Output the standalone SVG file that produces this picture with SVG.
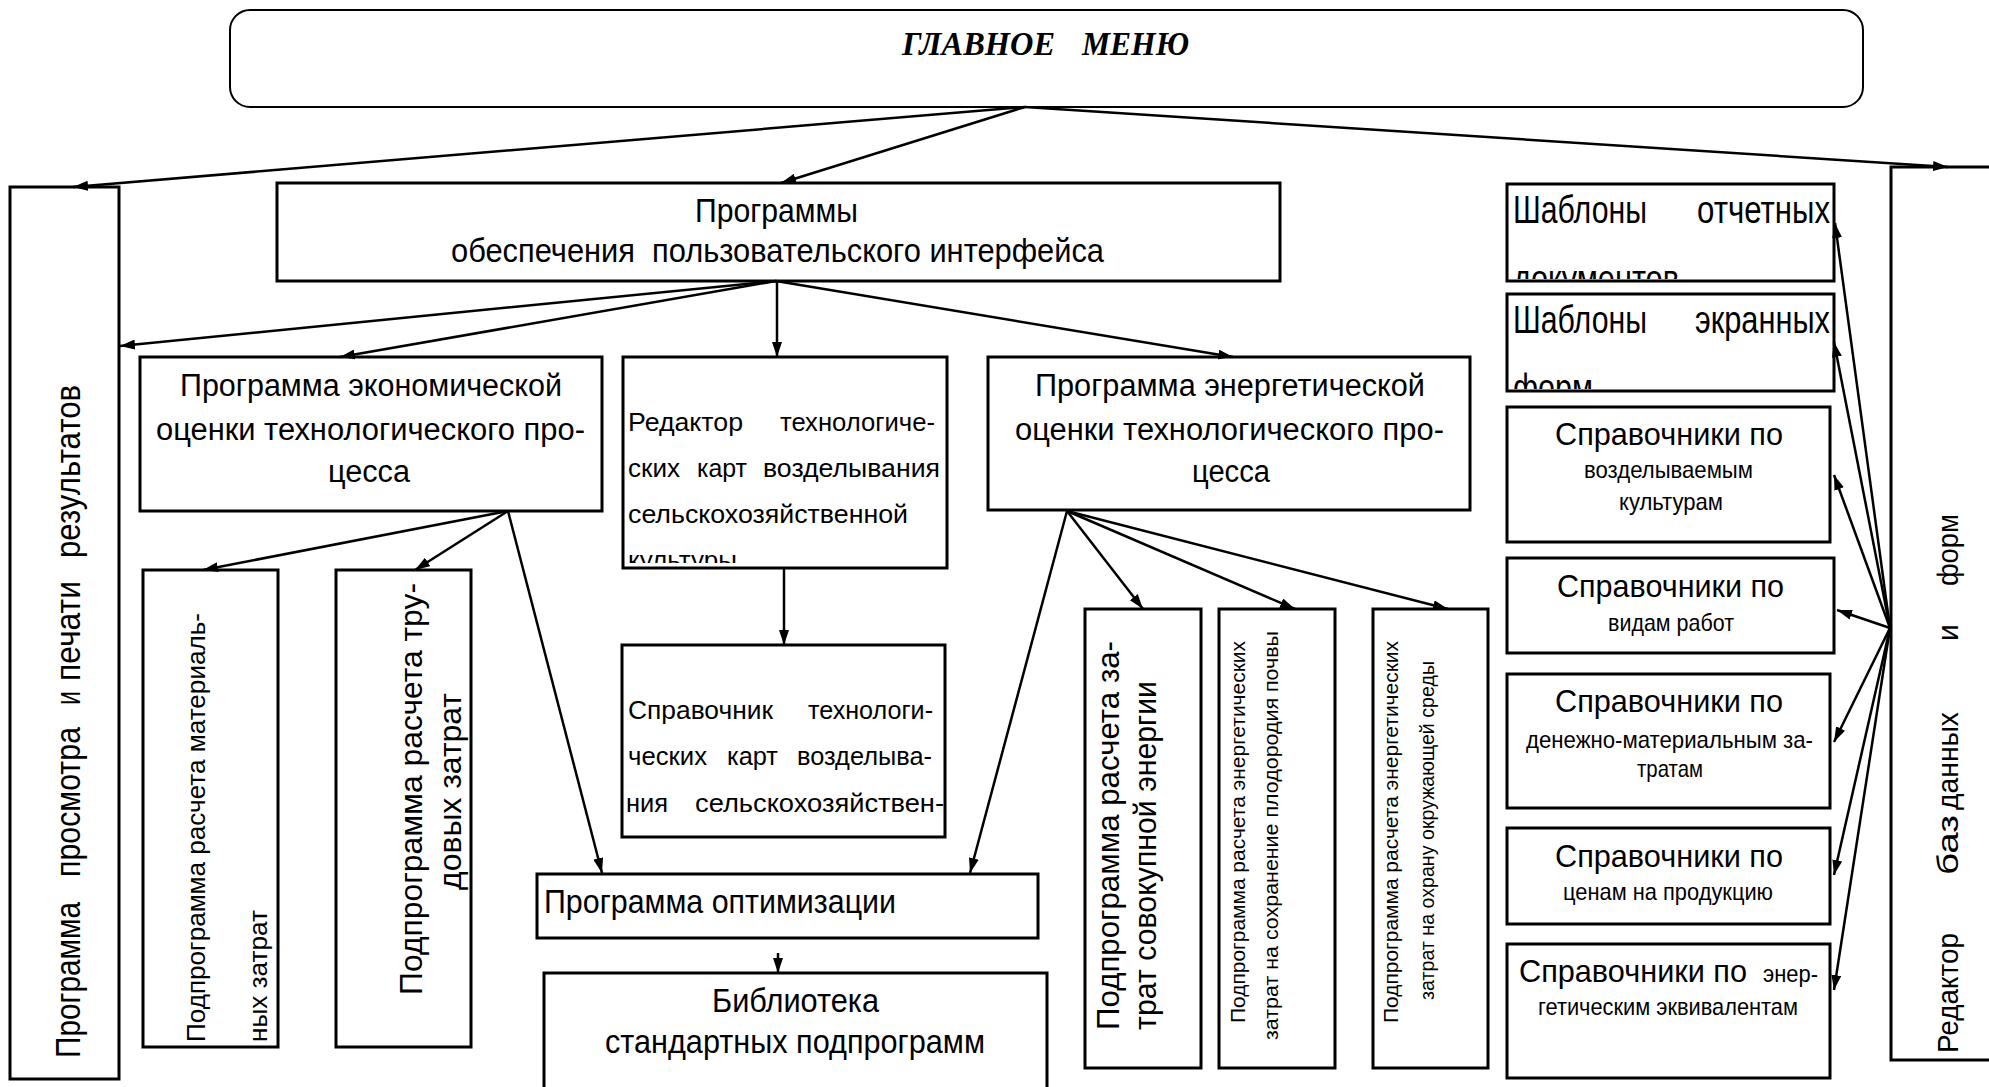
<svg xmlns="http://www.w3.org/2000/svg" width="1989" height="1087" viewBox="0 0 1989 1087">
<defs>
<marker id="ah" markerUnits="userSpaceOnUse" markerWidth="16" markerHeight="10" refX="15" refY="5" orient="auto"><path d="M0,0 L15,5 L0,10 z" fill="#000"/></marker>
<clipPath id="clipRed"><rect x="620" y="355" width="330" height="208"/></clipPath>
<clipPath id="clipSh1"><rect x="1505" y="182" width="331" height="97"/></clipPath>
<clipPath id="clipSh2"><rect x="1505" y="292" width="331" height="97"/></clipPath>
</defs>
<style>
.box{fill:#fff;stroke:#000;stroke-width:3}
.conn line{stroke:#000;stroke-width:2.5;marker-end:url(#ah)}
text{font-family:"Liberation Sans",Arial,sans-serif;fill:#000}
.menu{font-family:"Liberation Serif","Times New Roman",serif;font-weight:bold;font-style:italic;font-size:33px}
</style>
<rect width="1989" height="1087" fill="#fff"/>

<g id="main-menu">
<rect class="box" x="230" y="10" width="1633" height="97" rx="20" ry="20" style="stroke-width:2"/>
<text class="menu" x="902" y="55" textLength="153" lengthAdjust="spacingAndGlyphs">ГЛАВНОЕ</text>
<text class="menu" x="1082" y="55" textLength="107" lengthAdjust="spacingAndGlyphs">МЕНЮ</text>
</g>

<g id="ui-programs">
<rect class="box" x="277" y="183" width="1003" height="98"/>
<text x="695" y="222" font-size="33" textLength="163" lengthAdjust="spacingAndGlyphs">Программы</text>
<text x="451" y="262" font-size="33" textLength="653" lengthAdjust="spacingAndGlyphs" xml:space="preserve">обеспечения  пользовательского интерфейса</text>
</g>

<g id="view-print">
<rect class="box" x="10" y="187" width="109" height="892"/>
<text font-size="35" transform="translate(80,1058) rotate(-90)" textLength="156" lengthAdjust="spacingAndGlyphs">Программа</text>
<text font-size="35" transform="translate(80,877) rotate(-90)" textLength="150" lengthAdjust="spacingAndGlyphs">просмотра</text>
<text font-size="35" transform="translate(80,705) rotate(-90)" textLength="14" lengthAdjust="spacingAndGlyphs">и</text>
<text font-size="35" transform="translate(80,681) rotate(-90)" textLength="100" lengthAdjust="spacingAndGlyphs">печати</text>
<text font-size="35" transform="translate(80,558) rotate(-90)" textLength="173" lengthAdjust="spacingAndGlyphs">результатов</text>
</g>

<g id="econ">
<rect class="box" x="140" y="357" width="462" height="154"/>
<text x="180" y="396" font-size="31" textLength="382" lengthAdjust="spacingAndGlyphs">Программа экономической</text>
<text x="156" y="440" font-size="31" textLength="429" lengthAdjust="spacingAndGlyphs">оценки технологического про-</text>
<text x="328" y="482" font-size="31" textLength="82" lengthAdjust="spacingAndGlyphs">цесса</text>
</g>

<g id="editor">
<rect class="box" x="623" y="357" width="324" height="211"/>
<g clip-path="url(#clipRed)" font-size="26">
<text x="628" y="431" textLength="115" lengthAdjust="spacingAndGlyphs">Редактор</text>
<text x="780" y="431" textLength="155" lengthAdjust="spacingAndGlyphs">технологиче-</text>
<text x="628" y="477" textLength="52" lengthAdjust="spacingAndGlyphs">ских</text>
<text x="697" y="477" textLength="50" lengthAdjust="spacingAndGlyphs">карт</text>
<text x="763" y="477" textLength="177" lengthAdjust="spacingAndGlyphs">возделывания</text>
<text x="628" y="523" textLength="280" lengthAdjust="spacingAndGlyphs">сельскохозяйственной</text>
<text x="628" y="569">культуры</text>
</g>
</g>

<g id="catalog">
<rect class="box" x="622" y="645" width="323" height="192"/>
<g font-size="26">
<text x="628" y="719" textLength="145" lengthAdjust="spacingAndGlyphs">Справочник</text>
<text x="808" y="719" textLength="125" lengthAdjust="spacingAndGlyphs">технологи-</text>
<text x="628" y="765" textLength="79" lengthAdjust="spacingAndGlyphs">ческих</text>
<text x="727" y="765" textLength="51" lengthAdjust="spacingAndGlyphs">карт</text>
<text x="797" y="765" textLength="135" lengthAdjust="spacingAndGlyphs">возделыва-</text>
<text x="626" y="812" textLength="42" lengthAdjust="spacingAndGlyphs">ния</text>
<text x="695" y="812" textLength="249" lengthAdjust="spacingAndGlyphs">сельскохозяйствен-</text>
</g>
</g>

<g id="energy">
<rect class="box" x="988" y="357" width="482" height="153"/>
<text x="1035" y="396" font-size="31" textLength="390" lengthAdjust="spacingAndGlyphs">Программа энергетической</text>
<text x="1015" y="440" font-size="31" textLength="429" lengthAdjust="spacingAndGlyphs">оценки технологического про-</text>
<text x="1192" y="482" font-size="31" textLength="78" lengthAdjust="spacingAndGlyphs">цесса</text>
</g>

<g id="material">
<rect class="box" x="143" y="570" width="135" height="477"/>
<text font-size="26" transform="translate(205,1042) rotate(-90)" textLength="429" lengthAdjust="spacingAndGlyphs">Подпрограмма расчета материаль-</text>
<text font-size="26" transform="translate(267,1042) rotate(-90)" textLength="132" lengthAdjust="spacingAndGlyphs">ных затрат</text>
</g>

<g id="labor">
<rect class="box" x="336" y="570" width="135" height="477"/>
<text font-size="31" transform="translate(422,995) rotate(-90)" textLength="412" lengthAdjust="spacingAndGlyphs">Подпрограмма расчета тру-</text>
<text font-size="31" transform="translate(461,890) rotate(-90)" textLength="197" lengthAdjust="spacingAndGlyphs">довых затрат</text>
</g>

<g id="total-energy">
<rect class="box" x="1085" y="609" width="116" height="459"/>
<text font-size="31" transform="translate(1119,1030) rotate(-90)" textLength="389" lengthAdjust="spacingAndGlyphs">Подпрограмма расчета за-</text>
<text font-size="31" transform="translate(1156,1030) rotate(-90)" textLength="349" lengthAdjust="spacingAndGlyphs">трат совокупной энергии</text>
</g>

<g id="soil-energy">
<rect class="box" x="1219" y="609" width="116" height="459"/>
<text font-size="21" transform="translate(1245,1023) rotate(-90)" textLength="382" lengthAdjust="spacingAndGlyphs">Подпрограмма расчета энергетических</text>
<text font-size="21" transform="translate(1278,1040) rotate(-90)" textLength="409" lengthAdjust="spacingAndGlyphs">затрат на сохранение плодородия почвы</text>
</g>

<g id="env-energy">
<rect class="box" x="1373" y="609" width="115" height="459"/>
<text font-size="21" transform="translate(1398,1023) rotate(-90)" textLength="382" lengthAdjust="spacingAndGlyphs">Подпрограмма расчета энергетических</text>
<text font-size="21" transform="translate(1434,1000) rotate(-90)" textLength="339" lengthAdjust="spacingAndGlyphs">затрат на охрану окружающей среды</text>
</g>

<g id="optimization">
<rect class="box" x="537" y="874" width="501" height="64"/>
<text x="544" y="913" font-size="33" textLength="352" lengthAdjust="spacingAndGlyphs">Программа оптимизации</text>
</g>

<g id="library">
<rect class="box" x="544" y="973" width="503" height="130"/>
<text x="712" y="1012" font-size="34" textLength="167" lengthAdjust="spacingAndGlyphs">Библиотека</text>
<text x="605" y="1053" font-size="34" textLength="380" lengthAdjust="spacingAndGlyphs">стандартных подпрограмм</text>
</g>

<g id="db-editor">
<rect class="box" x="1891" y="167" width="120" height="893"/>
<text font-size="30" transform="translate(1958,1053) rotate(-90)" textLength="120" lengthAdjust="spacingAndGlyphs">Редактор</text>
<text font-size="30" transform="translate(1958,875) rotate(-90)" textLength="60" lengthAdjust="spacingAndGlyphs">баз</text>
<text font-size="30" transform="translate(1958,810) rotate(-90)" textLength="98" lengthAdjust="spacingAndGlyphs">данных</text>
<text font-size="30" transform="translate(1958,641) rotate(-90)">и</text>
<text font-size="30" transform="translate(1958,586) rotate(-90)" textLength="72" lengthAdjust="spacingAndGlyphs">форм</text>
</g>

<g id="tpl-reports">
<rect class="box" x="1507" y="184" width="327" height="97"/>
<g clip-path="url(#clipSh1)" font-size="38">
<text x="1513" y="223" textLength="134" lengthAdjust="spacingAndGlyphs">Шаблоны</text>
<text x="1697" y="223" textLength="133" lengthAdjust="spacingAndGlyphs">отчетных</text>
<text x="1513" y="292" textLength="166" lengthAdjust="spacingAndGlyphs">документов</text>
</g>
</g>

<g id="tpl-screens">
<rect class="box" x="1507" y="294" width="327" height="97"/>
<g clip-path="url(#clipSh2)" font-size="38">
<text x="1513" y="333" textLength="134" lengthAdjust="spacingAndGlyphs">Шаблоны</text>
<text x="1695" y="333" textLength="135" lengthAdjust="spacingAndGlyphs">экранных</text>
<text x="1513" y="401" textLength="80" lengthAdjust="spacingAndGlyphs">форм</text>
</g>
</g>

<g id="ref-crops">
<rect class="box" x="1507" y="407" width="323" height="135"/>
<text x="1555" y="445" font-size="32" textLength="228" lengthAdjust="spacingAndGlyphs">Справочники по</text>
<text x="1584" y="478" font-size="24" textLength="169" lengthAdjust="spacingAndGlyphs">возделываемым</text>
<text x="1619" y="510" font-size="24" textLength="104" lengthAdjust="spacingAndGlyphs">культурам</text>
</g>

<g id="ref-works">
<rect class="box" x="1507" y="558" width="327" height="95"/>
<text x="1557" y="597" font-size="32" textLength="227" lengthAdjust="spacingAndGlyphs">Справочники по</text>
<text x="1608" y="631" font-size="24" textLength="126" lengthAdjust="spacingAndGlyphs">видам работ</text>
</g>

<g id="ref-costs">
<rect class="box" x="1507" y="674" width="323" height="134"/>
<text x="1555" y="712" font-size="32" textLength="228" lengthAdjust="spacingAndGlyphs">Справочники по</text>
<text x="1526" y="748" font-size="24" textLength="287" lengthAdjust="spacingAndGlyphs">денежно-материальным за-</text>
<text x="1637" y="777" font-size="24" textLength="66" lengthAdjust="spacingAndGlyphs">тратам</text>
</g>

<g id="ref-prices">
<rect class="box" x="1507" y="828" width="323" height="96"/>
<text x="1555" y="867" font-size="32" textLength="228" lengthAdjust="spacingAndGlyphs">Справочники по</text>
<text x="1563" y="900" font-size="24" textLength="210" lengthAdjust="spacingAndGlyphs">ценам на продукцию</text>
</g>

<g id="ref-energy">
<rect class="box" x="1507" y="944" width="323" height="134"/>
<text x="1519" y="982" font-size="32" textLength="228" lengthAdjust="spacingAndGlyphs">Справочники по</text>
<text x="1763" y="982" font-size="24" textLength="55" lengthAdjust="spacingAndGlyphs">энер-</text>
<text x="1538" y="1015" font-size="24" textLength="260" lengthAdjust="spacingAndGlyphs">гетическим эквивалентам</text>
</g>

<g id="connectors" class="conn">
<line x1="1025" y1="107" x2="73" y2="187"/>
<line x1="1025" y1="107" x2="781" y2="183"/>
<line x1="1025" y1="107" x2="1948" y2="167"/>
<line x1="776" y1="281" x2="120" y2="346"/>
<line x1="776" y1="281" x2="340" y2="357"/>
<line x1="777" y1="281" x2="777" y2="357"/>
<line x1="776" y1="281" x2="1233" y2="357"/>
<line x1="508" y1="511" x2="203" y2="570"/>
<line x1="508" y1="511" x2="415" y2="570"/>
<line x1="508" y1="511" x2="602" y2="873"/>
<line x1="784" y1="568" x2="784" y2="645"/>
<line x1="1067" y1="511" x2="970" y2="873"/>
<line x1="1067" y1="511" x2="1143" y2="609"/>
<line x1="1067" y1="511" x2="1295" y2="609"/>
<line x1="1067" y1="511" x2="1448" y2="609"/>
<line x1="778" y1="953" x2="778" y2="973"/>
<line x1="1890" y1="628" x2="1835" y2="223"/>
<line x1="1890" y1="628" x2="1834" y2="342"/>
<line x1="1890" y1="628" x2="1834" y2="475"/>
<line x1="1890" y1="628" x2="1837" y2="610"/>
<line x1="1890" y1="628" x2="1834" y2="742"/>
<line x1="1890" y1="628" x2="1834" y2="875"/>
<line x1="1890" y1="628" x2="1834" y2="990"/>
</g>
</svg>
